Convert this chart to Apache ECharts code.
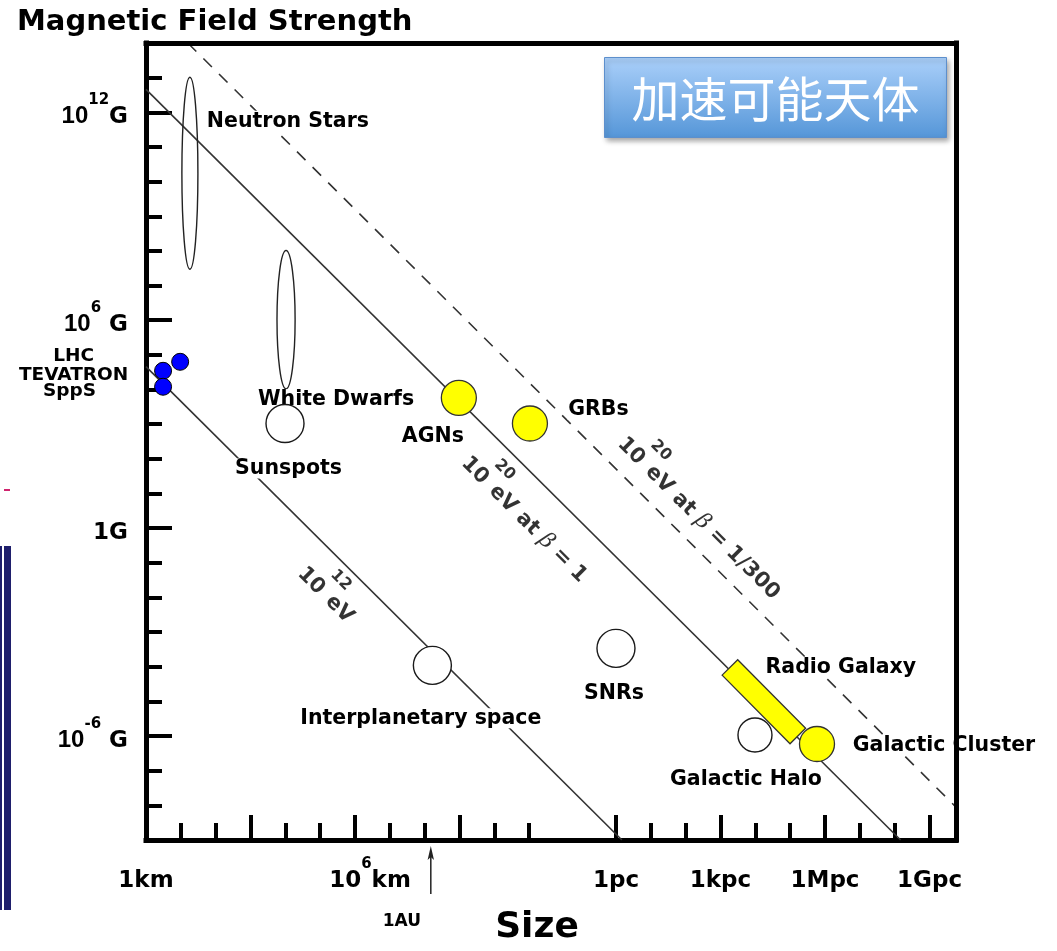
<!DOCTYPE html>
<html>
<head>
<meta charset="utf-8">
<title>Hillas diagram</title>
<script src="https://cdn.jsdelivr.net/npm/echarts@6/dist/echarts.min.js"></script>
<style>
  html, body { margin: 0; padding: 0; background: #fff; }
  #chart { width: 1057px; height: 951px; }
</style>
</head>
<body>
<div id="chart"></div>
<script>
// Hillas diagram: log10(size / km) on x, log10(B / gauss) on y.

// ---- data (decades) ----
const openNames = ['Sunspots', 'Interplanetary space', 'SNRs', 'Galactic Halo'];
const openSize  = [3.99, 8.22, 13.49, 17.48];
const openField = [3.02, -3.96, -3.47, -5.97];

const hotNames = ['AGNs', 'GRBs', 'Galactic Cluster'];
const hotSize  = [8.98, 11.02, 19.26];
const hotField = [3.76, 3.02, -6.23];

const accNames = ['LHC', 'TEVATRON', 'SppS'];
const accSize  = [0.98, 0.49, 0.49];
const accField = [4.80, 4.54, 4.08];

const starNames     = ['Neutron Stars', 'White Dwarfs'];
const starSize      = [1.26, 4.02];
const starFieldLow  = [7.47, 4.02];
const starFieldHigh = [13.01, 8.01];
const starSpread    = [0.46, 0.52];

const radioName   = 'Radio Galaxy';
const radioSize   = [16.76, 18.71];
const radioField  = [-4.02, -6.00];
const radioSpread = 0.63;

// Hillas condition lines
const beta1Size   = [0, 21.66],    beta1Field   = [12.66, -9];
const teVSize     = [0, 13.66],    teVField     = [4.66, -9];
const beta300Size = [1.20, 23.25], beta300Field = [14.00, -8.05];
const captionTexts = ['10^12 eV', '10^20 eV at β = 1', '10^20 eV at β = 1/300'];

const auSize = 8.175; // log10(1 AU / km)

// ---- axes ----
const sizeMin = 0, sizeMax = 23.25;
const fieldMin = -9, fieldMax = 14;
const sizeMinorTicks = [1, 2, 4, 5, 7, 8, 10, 11, 14.49, 15.49, 17.49, 18.49, 20.49, 21.49];
const sizeMajorTicks = [3, 6, 9, 13.49, 16.49, 19.49, 22.49];
const sizeLabelValues = [0, 6, 13.49, 16.49, 19.49, 22.49];
const sizeTickLabels  = ['1km', '10^6km', '1pc', '1kpc', '1Mpc', '1Gpc'];
const fieldMinorTicks = [-8, -7, -5, -4, -3, -2, -1, 1, 2, 3, 4, 5, 7, 8, 9, 10, 11, 13];
const fieldMajorTicks = [-6, 0, 6, 12];
const fieldTickLabels = ['10^-6 G', '1G', '10^6 G', '10^12G'];

// ---- styling ----
const FONT = 'DejaVu Sans';
const bold = { fontFamily: FONT, fontWeight: 'bold', color: '#000' };
const labelOffset = {
  'Sunspots': [3.5, 45], 'Interplanetary space': [-11.5, 53], 'SNRs': [-2, 45], 'Galactic Halo': [-9, 45],
  'AGNs': [-26, 39], 'GRBs': [68.5, -14], 'Galactic Cluster': [127, 2],
  'LHC': [-106.5, -6], 'TEVATRON': [-89.5, 4], 'SppS': [-93.5, 4],
  'Neutron Stars': [98, -52], 'White Dwarfs': [50, 80], 'Radio Galaxy': [77, -34]
};
const symbolSizeOf = { 'Galactic Halo': 34 };
const captionAlong = [0.43, 0.537, 0.6436];     // position along each line
const captionGap = [26, 29, -32.5];             // distance across the line, px

const near = (a, b) => Math.abs(a - b) < 1e-6;
const zip = (xs, ys) => xs.map((x, i) => [x, ys[i]]);

// "10^6km" -> rich text with a raised exponent
function supText(t, numKey, supKey) {
  const m = t.match(/^(.*?)10\^(-?\d+)(.*)$/);
  if (!m) return `{b|${t}}`;
  const head = m[1] ? `{b|${m[1]}}` : '';
  return `${head}{${numKey || 'b'}|10}{${supKey || 's'}|${m[2]}}{b|${m[3]}}`;
}
function captionRich(t) {
  return supText(t, 'n', 's').replace(/β/g, '}{g|β}{b|');
}

const tickRich = {
  b:  Object.assign({}, bold, { fontSize: 23, lineHeight: 36, verticalAlign: 'bottom' }),
  n:  Object.assign({}, bold, { fontFamily: 'Liberation Sans', fontSize: 24, lineHeight: 36, verticalAlign: 'bottom' }),
  bp: Object.assign({}, bold, { fontSize: 23, lineHeight: 36, verticalAlign: 'bottom', padding: [0, 0, 0, 30] }),
  s:  Object.assign({}, bold, { fontSize: 15, verticalAlign: 'top' })
};
const captionStyle = {
  b: Object.assign({}, bold, { fontSize: 21, lineHeight: 40, verticalAlign: 'bottom' }),
  n: Object.assign({}, bold, { fontSize: 21, lineHeight: 40, verticalAlign: 'bottom', width: 24, align: 'left' }),
  s: Object.assign({}, bold, { fontSize: 16, verticalAlign: 'top', width: 8, align: 'left' }),
  g: { fontFamily: 'DejaVu Serif', fontStyle: 'italic', fontWeight: 'normal', fontSize: 22, color: '#000',
       lineHeight: 40, verticalAlign: 'bottom' }
};
const axisLineStyle = { color: '#000', width: 5, cap: 'square' };
const tickLine = { color: '#000', width: 4 };
const markLabel = Object.assign({}, bold, { fontSize: 20.5, lineHeight: 20, backgroundColor: '#fff', padding: [0, 1] });

function pointData(names, xs, ys) {
  return names.map((n, i) => ({
    name: n, value: [xs[i], ys[i]],
    label: { offset: labelOffset[n] }
  }));
}

const chart = echarts.init(document.getElementById('chart'));

chart.setOption({
  animation: false,
  backgroundColor: '#fff',
  title: {
    text: 'Magnetic Field Strength', left: 17, top: 8, padding: 0,
    textStyle: Object.assign({}, bold, { fontSize: 29 })
  },
  grid: { left: 146, top: 43, width: 810, height: 800, show: false },
  xAxis: [
    {
      type: 'value', position: 'bottom', min: sizeMin, max: sizeMax,
      axisLine: { show: true, onZero: false, lineStyle: axisLineStyle },
      axisTick: { show: true, inside: true, length: 17, customValues: sizeMinorTicks, lineStyle: tickLine },
      axisLabel: {
        show: true, customValues: sizeLabelValues, margin: 17, rich: tickRich,
        formatter: v => {
          const i = sizeLabelValues.findIndex(t => near(t, v));
          return i < 0 ? '' : supText(sizeTickLabels[i], 'bp');
        }
      },
      splitLine: { show: false },
      name: 'Size', nameLocation: 'middle', nameGap: 70,
      nameTextStyle: Object.assign({}, bold, { fontSize: 36, padding: [0, 28, 0, 0] })
    },
    {
      type: 'value', position: 'bottom', min: sizeMin, max: sizeMax,
      axisLine: { show: false, onZero: false },
      axisTick: { show: true, inside: true, length: 25, customValues: sizeMajorTicks, lineStyle: tickLine },
      axisLabel: { show: false }, splitLine: { show: false }
    },
    {
      type: 'value', position: 'top', min: sizeMin, max: sizeMax, zlevel: 1,
      axisLine: { show: true, onZero: false, lineStyle: axisLineStyle },
      axisTick: { show: false }, axisLabel: { show: false }, splitLine: { show: false }
    }
  ],
  yAxis: [
    {
      type: 'value', position: 'left', min: fieldMin, max: fieldMax,
      axisLine: { show: true, onZero: false, lineStyle: axisLineStyle },
      axisTick: { show: true, inside: true, length: 16, customValues: fieldMinorTicks, lineStyle: tickLine },
      axisLabel: {
        show: true, customValues: fieldMajorTicks, margin: 18, padding: [0, 0, 3, 0], rich: tickRich,
        formatter: v => {
          const i = fieldMajorTicks.findIndex(t => near(t, v));
          return i < 0 ? '' : supText(fieldTickLabels[i], 'n');
        }
      },
      splitLine: { show: false }
    },
    {
      type: 'value', position: 'left', min: fieldMin, max: fieldMax,
      axisLine: { show: false, onZero: false },
      axisTick: { show: true, inside: true, length: 26, customValues: fieldMajorTicks, lineStyle: tickLine },
      axisLabel: { show: false }, splitLine: { show: false }
    },
    {
      type: 'value', position: 'right', min: fieldMin, max: fieldMax, zlevel: 1,
      axisLine: { show: true, onZero: false, lineStyle: axisLineStyle },
      axisTick: { show: false }, axisLabel: { show: false }, splitLine: { show: false }
    }
  ],
  series: [
    // Hillas lines
    { type: 'line', name: 'beta1', data: zip(beta1Size, beta1Field), symbol: 'none', z: 1, silent: true,
      lineStyle: { color: '#333', width: 1.6 } },
    { type: 'line', name: 'tev', data: zip(teVSize, teVField), symbol: 'none', z: 1, silent: true,
      lineStyle: { color: '#333', width: 1.6 } },
    { type: 'line', name: 'beta300', data: zip(beta300Size, beta300Field), symbol: 'none', z: 1, silent: true,
      lineStyle: { color: '#333', width: 1.6, type: [12, 10] } },

    // line captions (label offset is in the rotated frame: [along, across])
    {
      type: 'scatter', name: 'captions', symbolSize: 0, z: 4, silent: true,
      data: [[teVSize, teVField], [beta1Size, beta1Field], [beta300Size, beta300Field]].map((ln, i) => {
        const t = captionAlong[i];
        return {
          value: [ln[0][0] + t * (ln[0][1] - ln[0][0]), ln[1][0] + t * (ln[1][1] - ln[1][0])],
          label: {
            show: true, position: 'inside', rotate: -45, offset: [0, captionGap[i]],
            formatter: () => captionRich(captionTexts[i]), rich: captionStyle
          }
        };
      })
    },

    // neutron stars and white dwarfs
    {
      type: 'custom', name: 'stars', z: 3, silent: true,
      data: starNames.map((n, i) => [starSize[i], starFieldLow[i], starFieldHigh[i], starSpread[i]]),
      renderItem: (params, api) => {
        const name = starNames[params.dataIndex];
        const top = api.coord([api.value(0), api.value(2)]);
        const bot = api.coord([api.value(0), api.value(1)]);
        const rx = api.size([api.value(3), 0])[0] / 2;
        const cx = top[0], cy = (top[1] + bot[1]) / 2;
        const off = labelOffset[name];
        return {
          type: 'group', children: [
            { type: 'ellipse', shape: { cx: cx, cy: cy, rx: rx, ry: (bot[1] - top[1]) / 2 },
              style: { fill: null, stroke: '#222', lineWidth: 1.4 } },
            { type: 'text', x: cx + off[0], y: cy + off[1], z2: 20,
              style: { text: name, font: 'bold 20.5px "DejaVu Sans"', fill: '#000',
                       align: 'center', verticalAlign: 'middle', backgroundColor: '#fff', padding: [0, 1] } }
          ]
        };
      }
    },

    // radio galaxy band
    {
      type: 'custom', name: 'radio', z: 3, silent: true,
      data: [[radioSize[0], radioField[0], radioSize[1], radioField[1], radioSpread]],
      renderItem: (params, api) => {
        const a = api.coord([api.value(0), api.value(1)]);
        const b = api.coord([api.value(2), api.value(3)]);
        const hw = api.size([api.value(4), 0])[0] / 2;
        const dx = b[0] - a[0], dy = b[1] - a[1], len = Math.hypot(dx, dy);
        const nx = -dy / len * hw, ny = dx / len * hw;
        const off = labelOffset[radioName];
        const mx = (a[0] + b[0]) / 2, my = (a[1] + b[1]) / 2;
        return {
          type: 'group', children: [
            { type: 'polygon', shape: { points: [[a[0] + nx, a[1] + ny], [b[0] + nx, b[1] + ny], [b[0] - nx, b[1] - ny], [a[0] - nx, a[1] - ny]] },
              style: { fill: '#ffff00', stroke: '#333', lineWidth: 1.3 } },
            { type: 'text', x: mx + off[0], y: my + off[1], z2: 20,
              style: { text: radioName, font: 'bold 20.5px "DejaVu Sans"', fill: '#000',
                       align: 'center', verticalAlign: 'middle', backgroundColor: '#fff', padding: [0, 1] } }
          ]
        };
      }
    },

    // open circles
    {
      type: 'scatter', name: 'open', z: 3, silent: true,
      symbolSize: (v, p) => symbolSizeOf[p.name] || 38,
      itemStyle: { color: '#fff', borderColor: '#1a1a1a', borderWidth: 1.4, opacity: 1 },
      label: Object.assign({ show: true, position: 'inside', formatter: p => p.name }, markLabel),
      data: pointData(openNames, openSize, openField)
    },
    // yellow sources
    {
      type: 'scatter', name: 'hot', z: 3, silent: true,
      symbolSize: 35,
      itemStyle: { color: '#ffff00', borderColor: '#333', borderWidth: 1.3, opacity: 1 },
      label: Object.assign({ show: true, position: 'inside', formatter: p => p.name }, markLabel),
      data: pointData(hotNames, hotSize, hotField)
    },
    // accelerators
    {
      type: 'scatter', name: 'acc', z: 3, silent: true,
      symbolSize: 17,
      itemStyle: { color: '#0000ff', borderColor: '#000', borderWidth: 1, opacity: 1 },
      label: Object.assign({ show: true, position: 'inside', formatter: p => p.name },
        bold, { fontSize: 18.5, lineHeight: 17 }),
      data: pointData(accNames, accSize, accField)
    },

    // 1 AU marker under the size axis
    {
      type: 'custom', name: 'au', z: 5, silent: true, clip: false,
      data: [[auSize, fieldMin]],
      renderItem: (params, api) => {
        const p = api.coord([api.value(0), api.value(1)]);
        const x = p[0], y = p[1];
        return {
          type: 'group', children: [
            { type: 'line', shape: { x1: x, y1: y + 12, x2: x, y2: y + 54 }, style: { stroke: '#222', lineWidth: 1.5 } },
            { type: 'polygon', shape: { points: [[x, y + 6], [x - 3.2, y + 20], [x, y + 17], [x + 3.2, y + 20]] },
              style: { fill: '#222' } },
            { type: 'text', x: x - 29, y: y + 82,
              style: { text: '1AU', font: 'bold 17px "DejaVu Sans"', fill: '#000', align: 'center', verticalAlign: 'middle' } }
          ]
        };
      }
    }
  ],
  graphic: [
    // slide edge remnants on the far left
    { type: 'rect', left: 0, top: 546, shape: { width: 2, height: 364 }, style: { fill: '#1f1f6c' } },
    { type: 'rect', left: 4, top: 546, shape: { width: 7, height: 364 }, style: { fill: '#1f1f6c' } },
    { type: 'rect', left: 4, top: 489, shape: { width: 6, height: 2 }, style: { fill: '#d0246e' } },
    // title box
    {
      type: 'group', left: 604, top: 57, children: [
        { type: 'rect', shape: { x: 0, y: 0, width: 342, height: 80 },
          style: {
            fill: new echarts.graphic.LinearGradient(0, 0, 0, 1, [
              { offset: 0, color: '#abd0fa' }, { offset: 1, color: '#5596d8' }
            ]),
            stroke: '#5d8fcc', lineWidth: 1,
            shadowBlur: 5, shadowOffsetX: 2, shadowOffsetY: 3, shadowColor: 'rgba(0,0,0,0.35)'
          } },
        { type: 'text', x: 171, y: 41,
          style: { text: '加速可能天体', font: '48px "Noto Sans CJK SC"', fill: '#fff',
                   align: 'center', verticalAlign: 'middle', textAlign: 'center', textVerticalAlign: 'middle' } }
      ]
    }
  ]
});
</script>
</body>
</html>
